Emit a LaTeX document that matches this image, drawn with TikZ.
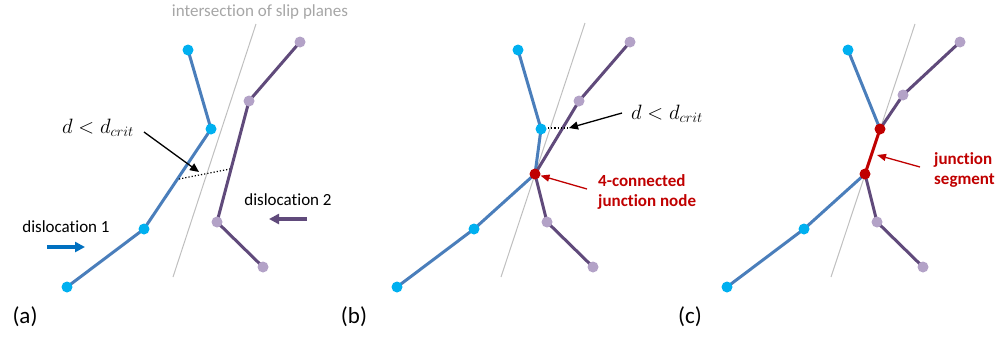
\documentclass[tikz,border=0pt]{standalone}
\usepackage{fontspec}
\setmainfont{Carlito}[Ligatures={NoCommon}]
\usetikzlibrary{arrows.meta}
\definecolor{bline}{HTML}{4A7EBB}
\definecolor{bdotc}{HTML}{00B0F0}
\definecolor{pline}{HTML}{604A7B}
\definecolor{pdotc}{HTML}{B3A2C7}
\definecolor{jred}{HTML}{C00000}
\definecolor{slipc}{HTML}{BFBFBF}
\definecolor{arrblue}{HTML}{0070C0}
\definecolor{txtgray}{HTML}{A6A6A6}
\begin{document}
\begin{tikzpicture}[x=1pt,y=-1pt,font=\fontsize{17}{20}\selectfont,
  bseg/.style={bline,line width=3pt,line cap=round,line join=round},
  pseg/.style={pline,line width=3pt,line cap=round,line join=round},
  jseg/.style={jred,line width=3pt,line cap=round},
  slipline/.style={slipc,line width=1pt},
  bdot/.style={circle,fill=bdotc,inner sep=0pt,minimum size=11pt},
  pdot/.style={circle,fill=pdotc,inner sep=0pt,minimum size=11pt},
  rdot/.style={circle,fill=jred,inner sep=0pt,minimum size=11pt},
  distline/.style={black,line width=1.2pt,dotted},
  callout/.style={black,line width=1.3pt,-{Triangle[length=9pt,width=8pt]}},
  redcallout/.style={jred,line width=1.3pt,-{Triangle[length=9pt,width=7pt]}},
  motion/.style={line width=4pt,-{Triangle[length=10pt,width=10pt]}},
  mathlbl/.style={anchor=base west,font=\fontsize{20}{24}\selectfont,inner sep=0pt},
  redlbl/.style={jred,font=\fontsize{17}{20}\selectfont\bfseries,align=left,anchor=west,inner sep=0pt},
  panellbl/.style={font=\fontsize{23}{26}\selectfont,inner sep=0pt},
  plainlbl/.style={inner sep=0pt}
]
\useasboundingbox (0,0) rectangle (1000,341);

% ---------- panel (a) ----------
\coordinate (sa1) at (256,24);
\coordinate (sa2) at (173,277);
\draw[slipline] (sa1) -- (sa2);
\coordinate (a1) at (188,50);
\coordinate (a2) at (211,129);
\coordinate (a3) at (144,229);
\coordinate (a4) at (67,287);
\coordinate (p1) at (300,42);
\coordinate (p2) at (249,101);
\coordinate (p3) at (217,222);
\coordinate (p4) at (263,267);
\draw[bseg] (a1) -- (a2) -- (a3) -- (a4);
\draw[pseg] (p1) -- (p2) -- (p3) -- (p4);
\foreach \n in {a1,a2,a3,a4} \node[bdot] (d\n) at (\n) {};
\foreach \n in {p1,p2,p3,p4} \node[pdot] (d\n) at (\n) {};
\coordinate (da1) at (179,179);
\coordinate (da2) at (230,169);
\draw[distline] (da1) -- (da2);
\node[mathlbl] (ma) at (62,133) {$d<d_{crit}$};
\coordinate (ca0) at (144,132);
\coordinate (ca1) at (199,172);
\draw[callout] (ca0) -- (ca1);
\node[plainlbl,txtgray] (slipt) at (260,12) {intersection of slip planes};
\node[plainlbl] (dis1) at (66,227) {dislocation 1};
\node[plainlbl] (dis2) at (288,200) {dislocation 2};
\coordinate (m1a) at (47,247);
\coordinate (m1b) at (85,247);
\draw[motion,arrblue] (m1a) -- (m1b);
\coordinate (m2a) at (307,219);
\coordinate (m2b) at (269,219);
\draw[motion,pline] (m2a) -- (m2b);
\node[panellbl] (la) at (25,317) {(a)};

% ---------- panel (b) ----------
\coordinate (sb1) at (585,23);
\coordinate (sb2) at (501,277);
\draw[slipline] (sb1) -- (sb2);
\coordinate (b1) at (518,50);
\coordinate (b2) at (541,129);
\coordinate (bj) at (535,174);
\coordinate (b3) at (474,229);
\coordinate (b4) at (397,287);
\coordinate (q1) at (630,42);
\coordinate (q2) at (579,101);
\coordinate (q3) at (547,222);
\coordinate (q4) at (593,267);
\draw[bseg] (b1) -- (b2) -- (bj) -- (b3) -- (b4);
\draw[pseg] (q1) -- (q2) -- (bj) -- (q3) -- (q4);
\foreach \n in {b1,b2,b3,b4} \node[bdot] (d\n) at (\n) {};
\foreach \n in {q1,q2,q3,q4} \node[pdot] (d\n) at (\n) {};
\node[rdot] (jb) at (bj) {};
\coordinate (db1) at (548,128);
\coordinate (db2) at (568,128);
\draw[distline] (db1) -- (db2);
\node[mathlbl] (mb) at (631,119) {$d<d_{crit}$};
\coordinate (cb0) at (622,113);
\coordinate (cb1) at (569,128);
\draw[callout] (cb0) -- (cb1);
\node[redlbl] (rb) at (598,192) {4-connected\\junction node};
\coordinate (rb0) at (587,189);
\draw[redcallout] (rb0) -- (jb);
\node[panellbl] (lb) at (354,317) {(b)};

% ---------- panel (c) ----------
\coordinate (sc1) at (915,24);
\coordinate (sc2) at (831,277);
\draw[slipline] (sc1) -- (sc2);
\coordinate (c1) at (848,50);
\coordinate (cj1) at (880,129);
\coordinate (cj2) at (865,174);
\coordinate (c3) at (804,229);
\coordinate (c4) at (727,287);
\coordinate (r1) at (960,42);
\coordinate (r2) at (903,95);
\coordinate (r3) at (877,222);
\coordinate (r4) at (923,267);
\draw[bseg] (c1) -- (cj1);
\draw[bseg] (cj2) -- (c3) -- (c4);
\draw[pseg] (r1) -- (r2) -- (cj1);
\draw[pseg] (cj2) -- (r3) -- (r4);
\draw[jseg] (cj1) -- (cj2);
\foreach \n in {c1,c3,c4} \node[bdot] (d\n) at (\n) {};
\foreach \n in {r1,r2,r3,r4} \node[pdot] (d\n) at (\n) {};
\node[rdot] (jc1) at (cj1) {};
\node[rdot] (jc2) at (cj2) {};
\node[redlbl] (rc) at (934,170) {junction\\segment};
\coordinate (rc0) at (920,167);
\coordinate (rc1) at (877,155);
\draw[redcallout] (rc0) -- (rc1);
\node[panellbl] (lc) at (690,317) {(c)};
\end{tikzpicture}
\end{document}
